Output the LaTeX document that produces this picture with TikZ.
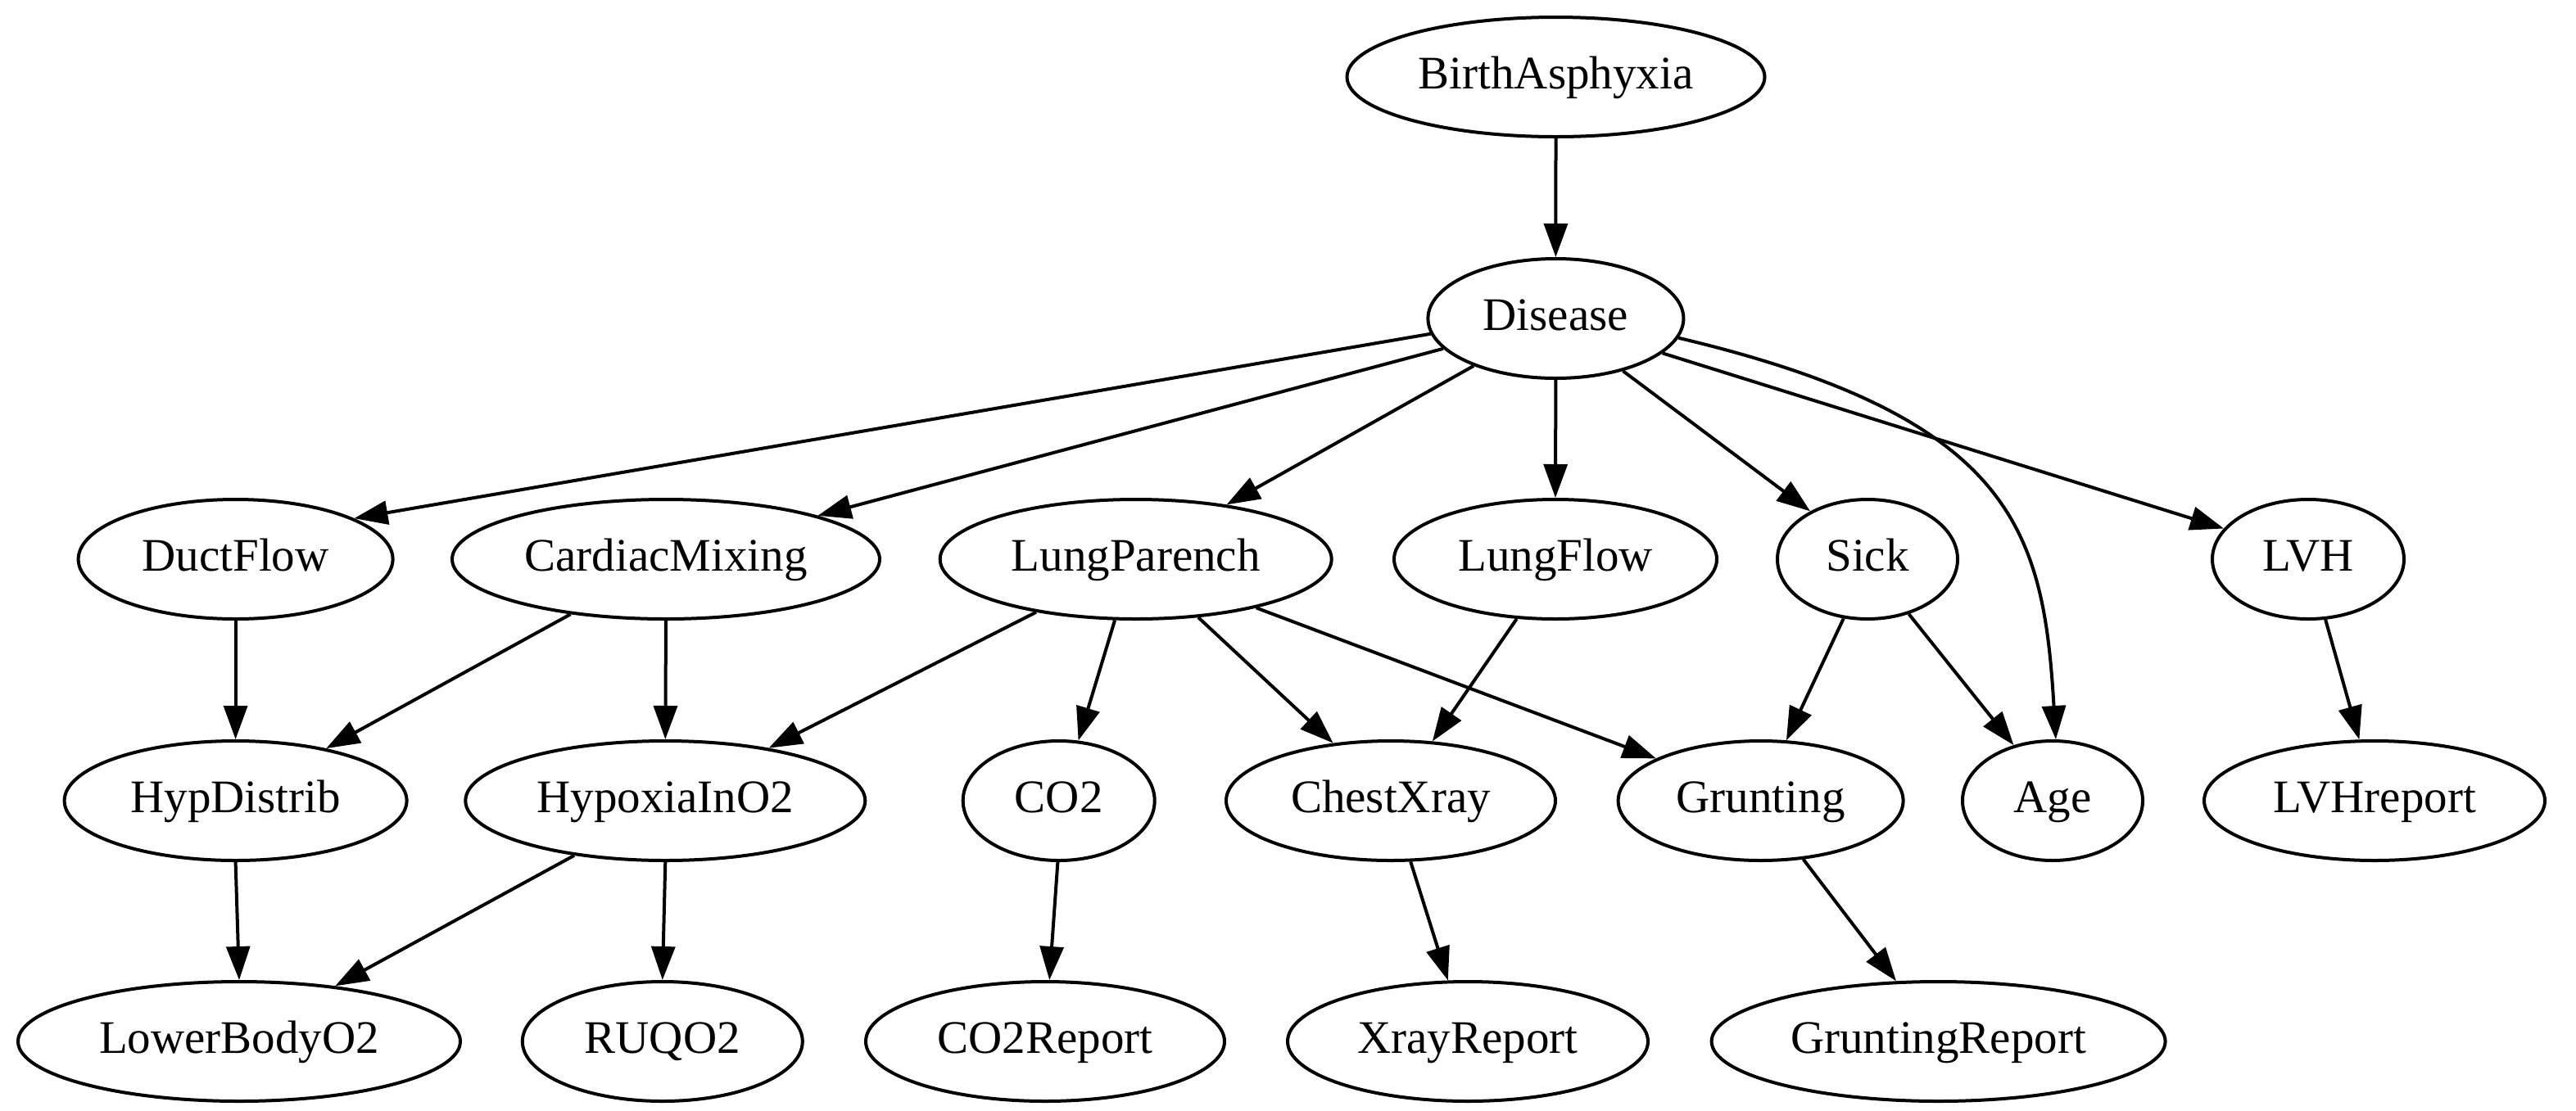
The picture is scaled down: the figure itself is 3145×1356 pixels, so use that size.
\documentclass[tikz,border=0pt]{standalone}
\usepackage{fontspec}
\setmainfont{Liberation Serif}
\usetikzlibrary{arrows.meta,shapes.geometric}
\tikzset{
  nd/.style={draw, ellipse, line width=2pt, inner sep=0pt, minimum height=73pt,
    text height=20pt, text depth=6pt,
    font=\fontsize{28.5}{34}\selectfont},
  edge/.style={line width=2pt, -{Triangle[length=20.5pt,width=14.4pt]}}
}
\begin{document}
\begin{tikzpicture}[x=0.5pt,y=-0.5pt]
\fill[white] (0,0) rectangle (3145,1356);
\useasboundingbox (0,0) rectangle (3145,1356);
% row 1
\node[nd, minimum width=255pt] (BA) at (1899.5,94) {BirthAsphyxia};
% row 2
\node[nd, minimum width=156pt] (D) at (1899.4,389) {Disease};
% row 3
\node[nd, minimum width=192pt] (DF) at (287.6,683) {DuctFlow};
\node[nd, minimum width=261pt] (CM) at (813,683) {CardiacMixing};
\node[nd, minimum width=239pt] (LP) at (1386.7,683) {LungParench};
\node[nd, minimum width=197pt] (LF) at (1899,683) {LungFlow};
\node[nd, minimum width=110pt] (S) at (2280,683) {Sick};
\node[nd, minimum width=117pt] (LVH) at (2818,683) {LVH};
% row 4
\node[nd, minimum width=209pt] (HD) at (287.6,978) {HypDistrib};
\node[nd, minimum width=244pt] (HI) at (812.3,978) {HypoxiaInO2};
\node[nd, minimum width=117pt] (CO) at (1292.7,978) {CO2};
\node[nd, minimum width=201pt] (CX) at (1698,978) {ChestXray};
\node[nd, minimum width=174pt] (G) at (2149.6,978) {Grunting};
\node[nd, minimum width=110pt] (A) at (2506,978) {Age};
\node[nd, minimum width=208pt] (LR) at (2899,978) {LVHreport};
% row 5
\node[nd, minimum width=270pt] (LB) at (292,1272) {LowerBodyO2};
\node[nd, minimum width=171pt] (RU) at (808.8,1272) {RUQO2};
\node[nd, minimum width=219pt] (COR) at (1276,1272) {CO2Report};
\node[nd, minimum width=220pt] (XR) at (1792,1272) {XrayReport};
\node[nd, minimum width=277pt] (GR) at (2366.6,1272) {GruntingReport};
% edges
\draw[edge] (BA.south) -- (D.north);
\draw[edge] (D.187.1) -- (DF.19.5);
\draw[edge] (D.195.5) -- (CM.16.3);
\draw[edge] (D.210.9) -- (LP.31.2);
\draw[edge] (D.south) -- (LF.north);
\draw[edge] (D.-38.5) -- (S.140.2);
\draw[edge] (D.-9.6) .. controls (2460,510) and (2495,650) .. (A.87.4);
\draw[edge] (D.-18.9) -- (LVH.160.1);
\draw[edge] (DF.south) -- (HD.north);
\draw[edge] (CM.210.1) -- (HD.30.1);
\draw[edge] (CM.south) -- (HI.north);
\draw[edge] (LP.208.4) -- (HI.27.5);
\draw[edge] (LP.251.8) -- (CO.72.9);
\draw[edge] (LP.-43.3) -- (CX.135.6);
\draw[edge] (LP.-22.3) -- (G.158.2);
\draw[edge] (LF.-123.6) -- (CX.55.6);
\draw[edge] (S.-112.7) -- (G.67.1);
\draw[edge] (S.-53.2) -- (A.125.5);
\draw[edge] (LVH.-74.8) -- (LR.104.5);
\draw[edge] (HD.south) -- (LB.north);
\draw[edge] (HI.211) -- (LB.30.2);
\draw[edge] (HI.south) -- (RU.north);
\draw[edge] (CO.-91.6) -- (COR.86.9);
\draw[edge] (CX.-72.3) -- (XR.108.7);
\draw[edge] (G.-54.2) -- (GR.125.9);
\end{tikzpicture}
\end{document}
